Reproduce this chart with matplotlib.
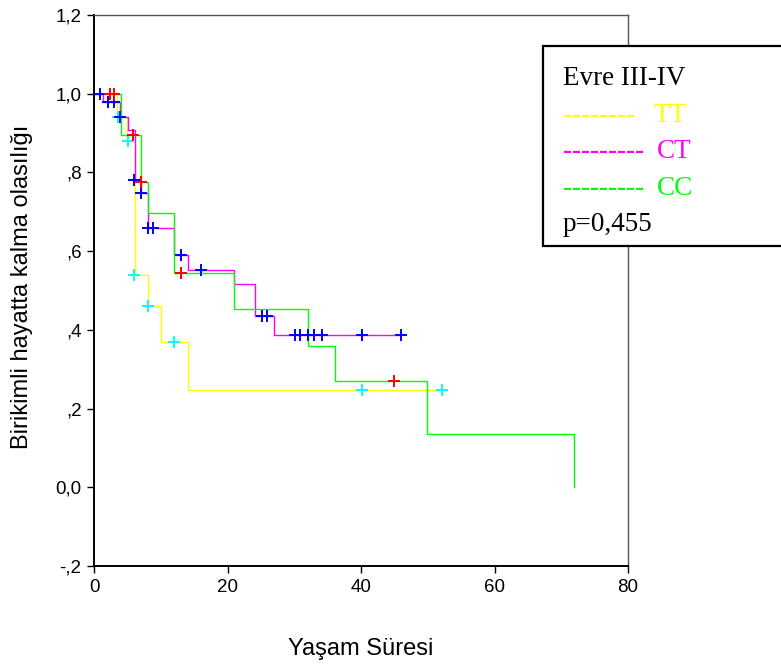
import matplotlib
matplotlib.use("Agg")
import matplotlib.pyplot as plt
from matplotlib.patches import Rectangle

W, H = 781, 664

# step curves (time, survival)
tt_t = [0, 3.5, 4.9, 6.1, 8.1, 10.0, 14.1, 52.0]
tt_s = [1.0, 0.94, 0.88, 0.54, 0.46, 0.37, 0.247, 0.247]
tt_cens_t = [3.65, 5.05, 6.05, 8.1, 12.05, 40.1, 52.1]
tt_cens_s = [0.94, 0.88, 0.54, 0.46, 0.37, 0.247, 0.247]

ct_t = [0, 1.4, 3.9, 5.05, 6.1, 7.1, 8.1, 12.0, 14.1, 21.0, 24.1, 27.0, 46.0]
ct_s = [1.0, 0.98, 0.94, 0.908, 0.78, 0.749, 0.66, 0.59, 0.552, 0.516, 0.436, 0.387, 0.387]
ct_cens_t = [0.9, 2.1, 3.0, 3.9, 6.05, 7.1, 8.1, 8.9, 13.0, 16.0, 25.1, 25.9,
             30.1, 30.9, 32.0, 33.0, 34.1, 40.1, 46.0]
ct_cens_s = [1.0, 0.98, 0.98, 0.94, 0.78, 0.749, 0.66, 0.66, 0.59, 0.552, 0.436, 0.436,
             0.387, 0.387, 0.387, 0.387, 0.387, 0.387, 0.387]

cc_t = [0, 4.0, 7.1, 8.1, 12.0, 21.0, 32.0, 36.1, 49.9, 71.9]
cc_s = [1.0, 0.895, 0.776, 0.698, 0.544, 0.453, 0.36, 0.271, 0.136, 0.0]
cc_cens_t = [2.4, 3.05, 5.9, 7.1, 13.0, 45.0]
cc_cens_s = [1.0, 1.0, 0.895, 0.776, 0.544, 0.271]

x_ticks = [0, 20, 40, 60, 80]
y_ticks = [-0.2, 0.0, 0.2, 0.4, 0.6, 0.8, 1.0, 1.2]
y_labels = ["-,2", "0,0", ",2", ",4", ",6", ",8", "1,0", "1,2"]

groups = [("TT", tt_t, tt_s, tt_cens_t, tt_cens_s, "#FFFF00", "#00FFFF"),
          ("CT", ct_t, ct_s, ct_cens_t, ct_cens_s, "#FF00FF", "#0000FF"),
          ("CC", cc_t, cc_s, cc_cens_t, cc_cens_s, "#00FF00", "#FF0000")]

plt.rcParams['font.family'] = ['Liberation Sans', 'DejaVu Sans']

fig = plt.figure(figsize=(W / 100, H / 100), dpi=100)
ax = fig.add_axes([94 / W, (H - 566) / H, 534 / W, 551 / H])

for name, t, s, ct, cs, col, mcol in groups:
    ax.step(t, s, where="post", color=col, lw=1.0, zorder=2)
for name, t, s, ct, cs, col, mcol in groups:
    ax.plot(ct, cs, ls="none", marker="+", ms=9, mew=1.4, color=mcol, zorder=3)

ax.set_xlim(0, 80)
ax.set_ylim(-0.2, 1.2)
ax.set_xticks(x_ticks)
ax.set_yticks(y_ticks)
ax.set_yticklabels(y_labels)
ax.tick_params(direction="out", length=5, width=1, labelsize=13.5, colors="black", pad=4)
for side in ["left", "bottom"]:
    ax.spines[side].set_linewidth(1.4)
    ax.spines[side].set_color("black")
for side in ["top", "right"]:
    ax.spines[side].set_linewidth(1.0)
    ax.spines[side].set_color("#555555")

fig.text(22 / W, 1 - 287 / H, "Birikimli hayatta kalma olasılığı", rotation=90,
         ha="center", va="center", fontsize=17)
fig.text(361 / W, 1 - 649 / H, "Yaşam Süresi", ha="center", va="center", fontsize=17)

# legend-like box on the right
fig.patches.append(Rectangle((543 / W, 1 - 246 / H), 260 / W, 200 / H,
                             transform=fig.transFigure, facecolor="white",
                             edgecolor="black", lw=1.6, zorder=5))
serif = ['Liberation Serif', 'DejaVu Serif']
fs = 19.5
fig.text(563 / W, 1 - 85 / H, "Evre III-IV", fontsize=fs, family=serif, color="black",
         va="baseline", zorder=6)
rows = [("TT", "#FFFF00", 8, 653, 122), ("CT", "#FF00FF", 9, 657, 158),
        ("CC", "#00FF00", 9, 657, 195)]
for lab, col, nd, lx, by in rows:
    fig.text(563 / W, 1 - by / H, "-" * nd, fontsize=fs, family=serif, color=col,
             va="baseline", zorder=6, fontweight="bold")
    fig.text(lx / W, 1 - by / H, lab, fontsize=fs, family=serif, color=col,
             va="baseline", zorder=6)
fig.text(563 / W, 1 - 231 / H, "p=0,455", fontsize=fs, family=serif, color="black",
         va="baseline", zorder=6)

fig.savefig("out.png", dpi=100)
